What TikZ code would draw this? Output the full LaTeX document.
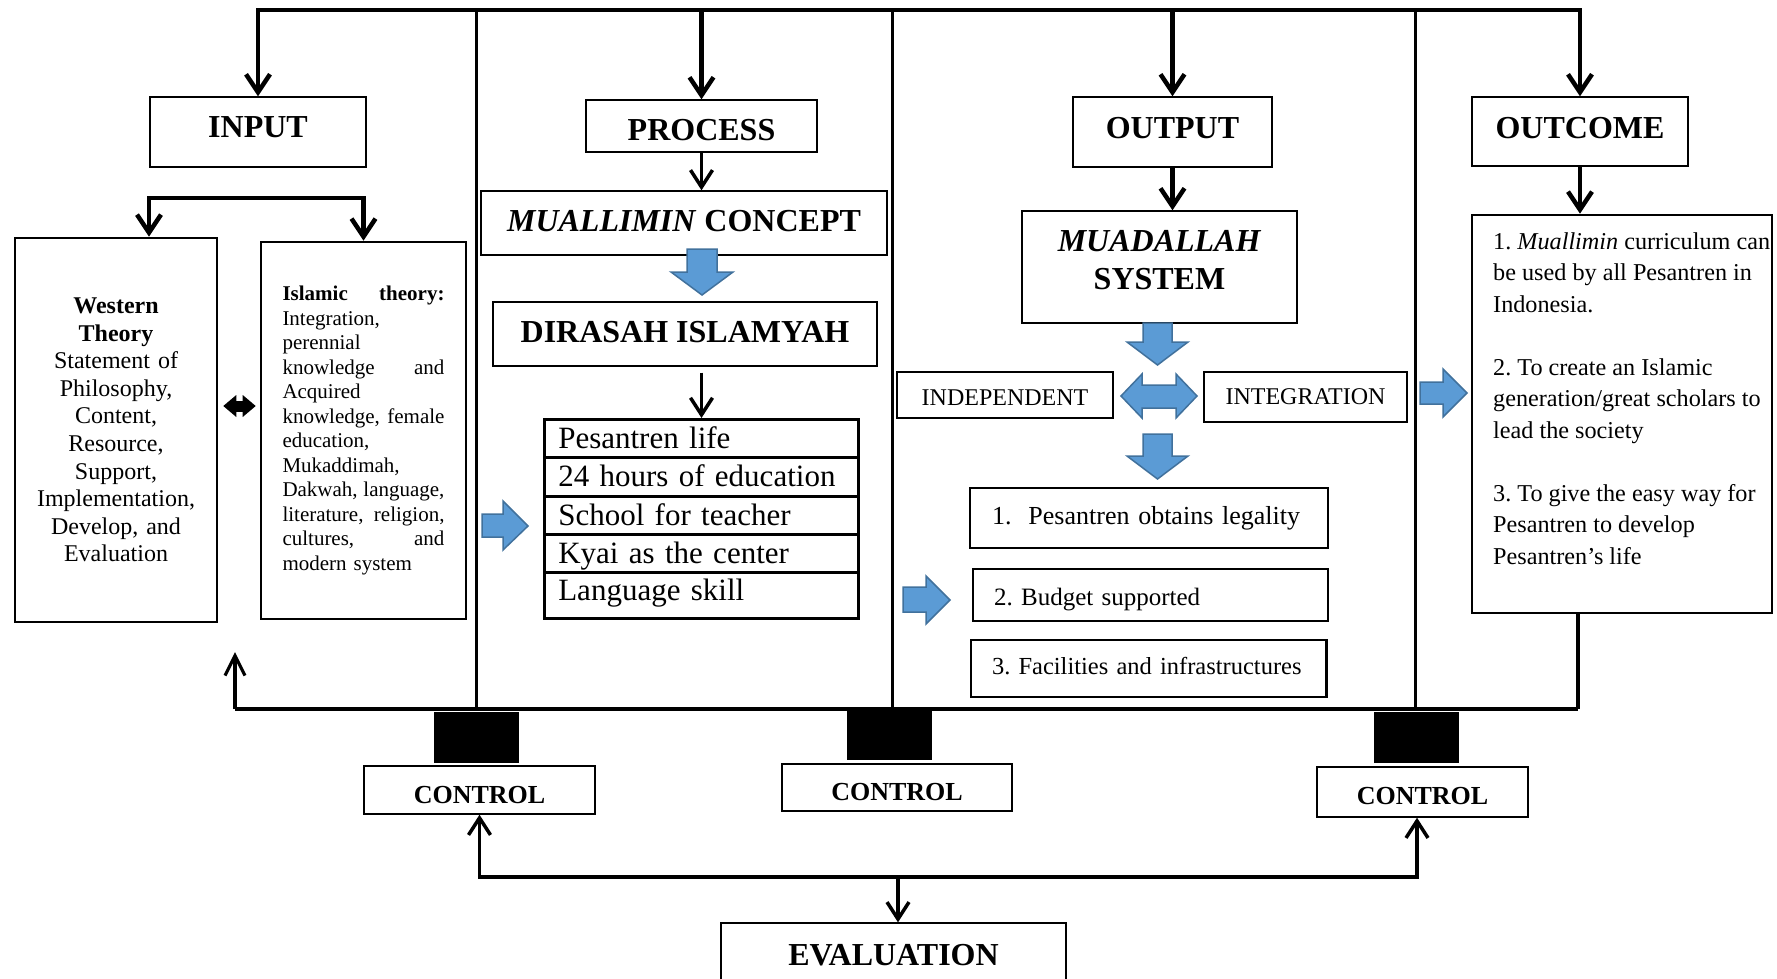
\documentclass[tikz,border=0pt]{standalone}
\usepackage{fontspec}
\setmainfont{Liberation Serif}
\usetikzlibrary{arrows.meta,calc}
\definecolor{arrowblue}{HTML}{5B9BD5}
\definecolor{arrowedge}{HTML}{41719C}
% stretch that beats the ragged-right glue, for justified lines
\newcommand{\jfill}{\hskip 0pt plus 1filll\relax}
\frenchspacing

\begin{document}
\begin{tikzpicture}[x=1pt,y=-1pt,
  box/.style={draw, line width=1.4pt, inner sep=0pt, rectangle},
  heavy/.style={box, line width=2.6pt},
  ttl/.style={font=\fontsize{32}{38}\selectfont\bfseries},
  ctl/.style={font=\fontsize{26}{30}\selectfont\bfseries},
  bigarr/.style={line width=4.5pt, -{Straight Barb[length=18pt,width=24pt]}},
  midarr/.style={line width=3.5pt, -{Straight Barb[length=17pt,width=22pt]}},
  thinarr/.style={line width=3.2pt, -{Straight Barb[length=20pt,width=20pt]}},
  frameline/.style={line width=4.5pt},
  divider/.style={line width=3pt},
  blockarrow/.style={fill=arrowblue, draw=arrowedge, line width=1.5pt, line join=miter},
  row/.style={heavy, anchor=north west, inner xsep=14pt, inner ysep=0pt, text width=286pt,
    align=left, font=\fontsize{31}{36}\selectfont, text height=22pt, text depth=2pt},
  item/.style={heavy, align=left, inner ysep=0pt},
  plain/.style={font=\fontsize{24}{28}\selectfont},
]
\useasboundingbox (0,0) rectangle (1777,978);

% ---------- column headings ----------
\node[box,ttl,minimum width=216pt,minimum height=70pt,text depth=10pt] (input) at (258,132) {INPUT};
\node[box,ttl,minimum width=231pt,minimum height=52pt,text height=29pt,text depth=0pt] (process) at (701.5,126) {PROCESS};
\node[box,ttl,minimum width=199pt,minimum height=70pt,text depth=9pt] (output) at (1172.5,132) {OUTPUT};
\node[box,ttl,minimum width=216pt,minimum height=69pt,text depth=8pt] (outcome) at (1580,131.5) {OUTCOME};

% ---------- input column ----------
\node[heavy, minimum width=202pt, minimum height=384pt, align=center, text width=195pt,
      font=\fontsize{24}{27.6}\selectfont] (western) at (116,430)
  {\textbf{Western}\\\textbf{Theory}\\Statement of\\Philosophy,\\Content,\\Resource,\\Support,\\Implementation,\\Develop, and\\Evaluation};
\node[heavy, minimum width=205pt, minimum height=377pt, align=left, text width=162pt,
      font=\fontsize{21}{24.5}\selectfont] (islamic) at (363.5,430.5)
  {\textbf{Islamic}\jfill\textbf{theory:}\\Integration,\\perennial\\knowledge\jfill and\\Acquired\\knowledge,\jfill female\\education,\\Mukaddimah,\\Dakwah,\jfill language,\\literature,\jfill religion,\\cultures,\jfill and\\modern system};

% ---------- process column ----------
\node[box,ttl,minimum width=406pt,minimum height=64pt,text depth=4.5pt] (muallimin) at (684,223) {\textit{MUALLIMIN} CONCEPT};
\node[box,ttl,minimum width=384pt,minimum height=64pt,text depth=4.5pt] (dirasah) at (685,334) {DIRASAH ISLAMYAH};
\node[row, minimum height=38pt] (row1) at (543,418) {Pesantren life};
\node[row, minimum height=39pt] (row2) at (543,456) {24 hours of education};
\node[row, minimum height=38pt] (row3) at (543,495) {School for teacher};
\node[row, minimum height=38pt] (row4) at (543,533) {Kyai as the center};
\node[row, minimum height=46pt, text depth=12pt] (row5) at (543,571) {Language skill};

% ---------- output column ----------
\node[box,ttl,minimum width=275pt,minimum height=112pt,align=center,text depth=15pt] (muad) at (1159.5,267)
  {\textit{MUADALLAH}\\SYSTEM};
\node[box,plain,minimum width=216pt,minimum height=46pt,text height=20pt,text depth=0pt] (indep) at (1005,395) {INDEPENDENT};
\node[box,plain,minimum width=203pt,minimum height=50pt] (integ) at (1305.5,397) {INTEGRATION};
\node[item, inner xsep=22pt, text width=314pt, minimum height=60pt, font=\fontsize{26}{30}\selectfont] (res1) at (1149,518)
  {\mbox{1.\hspace{17pt}Pesantren obtains legality}};
\node[item, inner xsep=21pt, text width=313pt, minimum height=52pt, font=\fontsize{25}{29}\selectfont,
      text height=21pt, text depth=1pt] (res2) at (1150.5,595) {\mbox{2. Budget supported}};
\node[item, inner xsep=21pt, text width=313.5pt, minimum height=57pt, font=\fontsize{24.5}{29}\selectfont,
      text height=17pt, text depth=5pt] (res3) at (1148.75,668.5) {\mbox{3. Facilities and infrastructures}};

% ---------- outcome column ----------
\node[heavy, minimum width=300pt, minimum height=398pt] (outbox) at (1622,414) {};
\node[anchor=base west, inner sep=0pt, font=\fontsize{24.2}{31.5}\selectfont] (outtext) at (1493,249)
  {\parbox[t]{282pt}{\raggedright
   1. \textit{Muallimin} curriculum can\\
   be used by all Pesantren in\\
   Indonesia.\\[31.5pt]
   2. To create an Islamic\\
   generation/great scholars to\\
   lead the society\\[31.5pt]
   3. To give the easy way for\\
   Pesantren to develop\\
   Pesantren’s life}};

% ---------- control and evaluation ----------
\node[fill=black, inner sep=0pt, minimum width=85pt, minimum height=51pt] (sq1) at (476.5,737.5) {};
\node[fill=black, inner sep=0pt, minimum width=85pt, minimum height=51pt] (sq2) at (889.5,734.5) {};
\node[fill=black, inner sep=0pt, minimum width=85pt, minimum height=51pt] (sq3) at (1416.5,737.5) {};
\node[box,ctl,minimum width=231pt,minimum height=48pt,text height=26pt,text depth=0pt] (ctl1) at (479.5,790) {CONTROL};
\node[box,ctl,minimum width=230pt,minimum height=47pt,text height=26pt,text depth=0pt] (ctl2) at (897,787.5) {CONTROL};
\node[box,ctl,minimum width=211pt,minimum height=50pt,text height=24pt,text depth=0pt] (ctl3) at (1422.5,792) {CONTROL};
\node[box,ttl,minimum width=345pt,minimum height=59pt,text height=26pt,text depth=0pt] (eval) at (893.5,952.5) {EVALUATION};

% ---------- frame ----------
\coordinate (topline) at (0,10);
\coordinate (d1t) at (476,10);  \coordinate (d1b) at (476,709);
\coordinate (d2t) at (892,10);  \coordinate (d2b) at (892,709);
\coordinate (d3t) at (1415,10); \coordinate (d3b) at (1415,709);
\coordinate (bl) at (235,709);
\coordinate (br) at (1578,709);
\coordinate (fb) at (235,652);
\draw[divider] (d1t) -- (d1b);
\draw[divider] (d2t) -- (d2b);
\draw[divider] (d3t) -- (d3b);
\draw[bigarr] (outcome.north |- topline) -| (input.north);
\draw[bigarr] (input.north |- topline) -| (outcome.north);
\draw[bigarr] (process.north |- topline) -- (process.north);
\draw[bigarr] (output.north |- topline) -- (output.north);
\draw[frameline] (bl) -- (br);
\draw[line width=3.5pt] (outbox.south -| br) -- (br);
\draw[thinarr] (bl) -- (fb);

% ---------- connectors inside the columns ----------
\coordinate (split) at (0,198);
\coordinate (wtop) at ([xshift=33pt]western.north);
\draw[bigarr] (islamic.north |- split) -| (wtop);
\draw[bigarr] (wtop |- split) -| (islamic.north);
\coordinate (dl) at ([yshift=24pt]western.east);
\draw[line width=11pt, {Triangle[length=13pt,width=22pt,line width=0pt]}-{Triangle[length=13pt,width=22pt,line width=0pt]},
      shorten <=5pt, shorten >=4pt] (dl) -- (dl -| islamic.west);

\draw[midarr] (process.south) -- (process.south |- muallimin.north);
\coordinate (pdown) at ($(dirasah.south -| process.south)+(0,6)$);
\draw[midarr] (pdown) -- (pdown |- row1.north);
\draw[bigarr] (output.south) -- (output.south |- muad.north);
\draw[bigarr] (outcome.south) -- (outcome.south |- outbox.north);

\coordinate (ehub) at (898,877);
\coordinate (c3in) at ([xshift=-5.5pt]ctl3.south);
\draw[midarr] (c3in |- ehub) -| (ctl1.south);
\draw[midarr] (ctl1.south |- ehub) -| (c3in);
\draw[midarr] (ehub) -- (ehub |- eval.north);

% ---------- block arrows ----------
\draw[blockarrow] (687,249) -- (717,249) -- (717,272) -- (733,272) -- (702,295) -- (671,272) -- (687,272) -- cycle;
\draw[blockarrow] (482,514) -- (503,514) -- (503,501) -- (528,526) -- (503,550) -- (503,537) -- (482,537) -- cycle;
\draw[blockarrow] (1143,323) -- (1172,323) -- (1172,342) -- (1188,342) -- (1157.5,365) -- (1127,342) -- (1143,342) -- cycle;
\draw[blockarrow] (1121,396) -- (1142,374) -- (1142,385) -- (1176,385) -- (1176,374) -- (1197,396) -- (1176,418)
  -- (1176,408) -- (1142,408) -- (1142,418) -- cycle;
\draw[blockarrow] (1143,434) -- (1172,434) -- (1172,456) -- (1188,456) -- (1157.5,479) -- (1127,456) -- (1143,456) -- cycle;
\draw[blockarrow] (903,587) -- (926,587) -- (926,576) -- (950,600) -- (926,624) -- (926,612) -- (903,612) -- cycle;
\draw[blockarrow] (1420,382) -- (1443,382) -- (1443,369) -- (1467,393) -- (1443,417) -- (1443,404) -- (1420,404) -- cycle;
\end{tikzpicture}
\end{document}
